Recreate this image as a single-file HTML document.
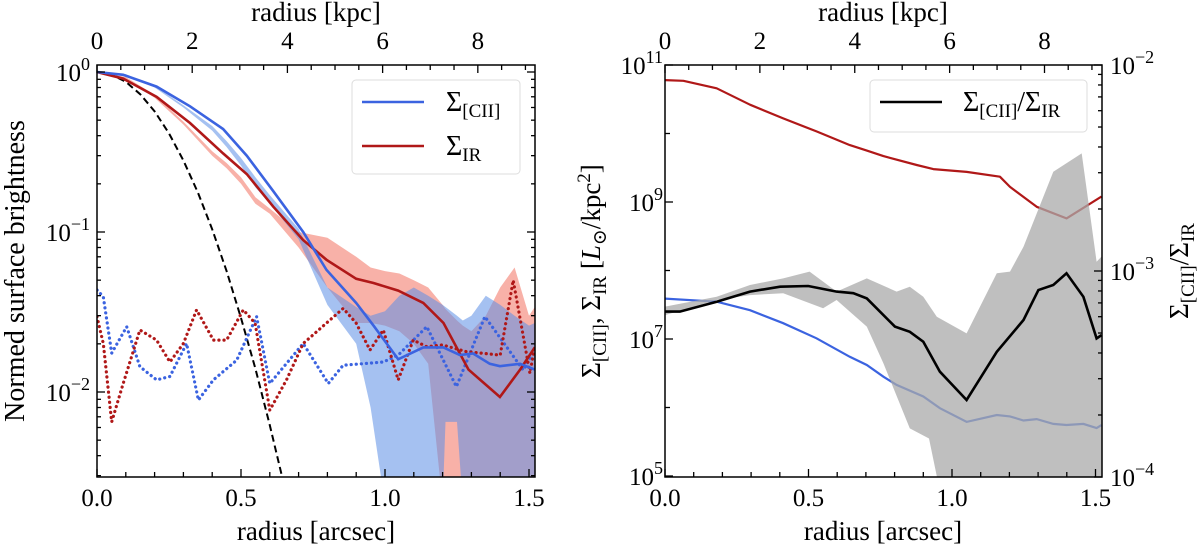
<!DOCTYPE html>
<html><head><meta charset="utf-8"><style>
html,body{margin:0;padding:0;background:#fff;}
svg{display:block;}
svg text{font-family:"Liberation Serif","Times New Roman",Times,"DejaVu Serif",serif;}
</style></head><body>
<svg id="fig" width="1200" height="549" viewBox="0 0 1200 549" xmlns="http://www.w3.org/2000/svg">
<defs>
<clipPath id="clipL"><rect x="97" y="65" width="438" height="412"/></clipPath>
<clipPath id="clipR"><rect x="665" y="65" width="437" height="412"/></clipPath>
</defs>
<g id="left"></g>
<g id="right"></g>
</svg>
<script>
// ---------- LEFT PANEL DATA ----------
const ciiR = [0,0.091,0.207,0.323,0.438,0.52,0.612,0.716,0.797,0.90,0.96,1.046,1.133,1.203,1.26,1.306,1.364,1.399,1.469,1.52];
const ciiV = [1.0,0.96,0.81,0.61,0.44,0.30,0.18,0.10,0.058,0.036,0.026,0.016,0.019,0.019,0.017,0.0174,0.015,0.0145,0.0150,0.0138];
const irR = [0,0.091,0.207,0.323,0.438,0.52,0.612,0.716,0.797,0.90,0.96,1.046,1.133,1.203,1.29,1.399,1.469,1.52];
const irV = [1.0,0.91,0.70,0.48,0.31,0.23,0.144,0.089,0.067,0.051,0.048,0.043,0.036,0.027,0.0138,0.0093,0.0138,0.019];
const bandR = [0,0.1,0.2,0.3,0.4,0.45,0.5,0.55,0.6,0.7,0.8,0.9,0.95,1.0,1.05,1.1,1.15,1.2,1.21,1.25,1.27,1.3,1.35,1.4,1.45,1.5,1.52];
const irUp = [1,0.93,0.72,0.49,0.32,0.27,0.22,0.165,0.14,0.10,0.092,0.07,0.06,0.057,0.055,0.05,0.045,0.035,0.033,0.028,0.026,0.024,0.03,0.045,0.06,0.03,0.034];
const irLo = [1,0.90,0.69,0.47,0.30,0.25,0.20,0.15,0.13,0.08,0.045,0.027,0.027,0.026,0.024,0.02,0.015,0.002,0.002,0.002,0.002,0.002,0.002,0.002,0.002,0.002,0.002];
const ciiUp = [1,0.97,0.82,0.62,0.46,0.37,0.29,0.22,0.17,0.105,0.045,0.034,0.03,0.032,0.04,0.045,0.04,0.035,0.034,0.03,0.028,0.03,0.04,0.035,0.03,0.026,0.027];
const ciiLo = [1,0.95,0.80,0.60,0.43,0.34,0.26,0.19,0.15,0.09,0.035,0.02,0.008,0.002,0.002,0.002,0.002,0.002,0.0065,0.0065,0.002,0.002,0.002,0.002,0.002,0.002,0.002];
const ciiNoiseR = [0,0.022,0.051,0.103,0.149,0.207,0.253,0.311,0.352,0.404,0.485,0.554,0.60,0.716,0.803,0.855,0.936,0.994,1.046,1.145,1.248,1.347,1.422,1.48,1.52];
const ciiNoiseV = [0.0434,0.0394,0.0175,0.0256,0.0144,0.0119,0.0125,0.0201,0.0089,0.0119,0.0158,0.0296,0.0113,0.0201,0.0113,0.0147,0.0151,0.0154,0.017,0.0256,0.0108,0.0296,0.0192,0.0137,0.0183];
const irNoiseR = [0,0.022,0.051,0.091,0.149,0.207,0.253,0.30,0.346,0.404,0.45,0.508,0.549,0.60,0.658,0.716,0.855,0.90,0.948,0.994,1.046,1.098,1.145,1.20,1.28,1.40,1.445,1.503,1.52];
const irNoiseV = [0.0296,0.0201,0.0065,0.0113,0.0244,0.0211,0.0154,0.0201,0.0326,0.0211,0.0211,0.0326,0.0269,0.0077,0.0119,0.0201,0.0333,0.0269,0.0183,0.0244,0.0119,0.0211,0.0192,0.0197,0.0179,0.017,0.050,0.0131,0.0192];
const psfR = [0,0.05,0.1,0.15,0.2,0.25,0.3,0.35,0.4,0.45,0.5,0.55,0.6,0.65];
const psfV = [1,0.965,0.868,0.727,0.568,0.413,0.28,0.177,0.104,0.057,0.029,0.014,0.0062,0.0026];
const arcTicks = ["0.0","0.5","1.0","1.5"];
const arcTickVals = [0,0.5,1.0,1.5];
const kpcTicks = ["0","2","4","6","8"];
const kpcTickVals = [0,2,4,6,8];
const leftYExp = ["0","\u22121","\u22122"];
const leftYVals = [0,-1,-2];

// ---------- RIGHT PANEL DATA ----------
const rIrR = [0,0.064,0.18,0.296,0.412,0.528,0.644,0.703,0.761,0.877,0.935,1.051,1.167,1.202,1.295,1.399,1.521];
const rIrLog = [10.78,10.77,10.66,10.42,10.22,10.03,9.83,9.75,9.67,9.54,9.48,9.44,9.37,9.22,8.93,8.76,9.08];
const rCiiR = [0,0.18,0.296,0.412,0.528,0.644,0.703,0.761,0.807,0.90,0.958,1.051,1.156,1.202,1.249,1.295,1.353,1.399,1.458,1.504,1.521];
const rCiiLog = [7.59,7.545,7.42,7.23,7.01,6.74,6.62,6.45,6.33,6.16,5.99,5.79,5.89,5.87,5.81,5.83,5.76,5.745,5.76,5.70,5.745];
const ratioR = [0,0.052,0.18,0.296,0.401,0.499,0.598,0.656,0.703,0.801,0.853,0.90,0.958,1.051,1.156,1.249,1.301,1.353,1.399,1.458,1.504,1.521];
const ratioLog = [-3.197,-3.197,-3.149,-3.10,-3.076,-3.073,-3.10,-3.108,-3.133,-3.27,-3.295,-3.343,-3.489,-3.626,-3.392,-3.238,-3.092,-3.068,-3.011,-3.125,-3.327,-3.311];
const gUpR = [0,0.18,0.296,0.412,0.504,0.598,0.703,0.807,0.853,0.90,0.947,1.051,1.156,1.202,1.249,1.353,1.452,1.504,1.521];
const gUpLog = [-3.173,-3.125,-3.068,-3.036,-3.003,-3.10,-3.036,-3.10,-3.076,-3.125,-3.222,-3.303,-3.011,-3.003,-2.882,-2.518,-2.429,-2.955,-2.93];
const gLoR = [0,0.18,0.296,0.412,0.551,0.598,0.703,0.761,0.853,0.92,0.955,1.521];
const gLoLog = [-3.214,-3.141,-3.117,-3.108,-3.181,-3.141,-3.27,-3.448,-3.764,-3.813,-4.05,-4.05];
const rightLExp = ["11","9","7","5"];
const rightLVals = [11,9,7,5];
const rightRExp = ["\u22122","\u22123","\u22124"];
const rightRVals = [-2,-3,-4];

const NS="http://www.w3.org/2000/svg";
const FF = '"Liberation Serif", "Times New Roman", Times, "DejaVu Serif", serif';
function mk(parent, tag, attrs){const e=document.createElementNS(NS,tag);for(const k in attrs)e.setAttribute(k,attrs[k]);if(tag==='text'){e.setAttribute('font-family',FF);e.style.fontFamily=FF;}parent.appendChild(e);return e;}

const xL = r => 97 + 288*r;
const yL = v => 72 - 160*Math.log10(v);
const xR = r => 665 + 287*r;
const yRL = l => 65 + (11-l)*68.5;
const yRR = l => 65 + (-2-l)*206;

function pathFrom(xs, ys, fx, fy){return xs.map((x,i)=>(i?'L':'M')+fx(x).toFixed(1)+','+fy(ys[i]).toFixed(1)).join(' ');}
function bandPath(xs, up, lo, fx, fy, xs2){
  xs2 = xs2||xs;
  let d = xs.map((x,i)=>(i?'L':'M')+fx(x).toFixed(1)+','+fy(up[i]).toFixed(1)).join(' ');
  for(let i=xs2.length-1;i>=0;i--) d+=' L'+fx(xs2[i]).toFixed(1)+','+fy(lo[i]).toFixed(1);
  return d+' Z';
}
function powLabel(parent, x, y, exp, anchor, name){
  const t = mk(parent,'text',{x:x,y:y,'font-size':'25','text-anchor':anchor,fill:'#000'});
  
  
  t.appendChild(document.createTextNode('10'));
  const s = mk(t,'tspan',{dy:'-11','font-size':'18'});
  s.textContent = exp;
  return t;
}

// ================= LEFT =================
const L = document.getElementById('left');
const gL = mk(L,'g',{'clip-path':'url(#clipL)'});
let p;
p = mk(gL,'path',{d:bandPath(bandR,irUp,irLo,xL,yL),fill:'#f37d6e','fill-opacity':'0.6',stroke:'none'});


p = mk(gL,'path',{d:bandPath(bandR,ciiUp,ciiLo,xL,yL),fill:'#5b8ee6','fill-opacity':'0.55',stroke:'none'});


p = mk(gL,'path',{d:pathFrom(psfR,psfV,xL,yL),fill:'none',stroke:'#000','stroke-width':'2','stroke-dasharray':'7,4'});


p = mk(gL,'path',{d:pathFrom(ciiNoiseR,ciiNoiseV,xL,yL),fill:'none',stroke:'#3b63e0','stroke-width':'3.2','stroke-dasharray':'0.1,5','stroke-linecap':'round'});


p = mk(gL,'path',{d:pathFrom(irNoiseR,irNoiseV,xL,yL),fill:'none',stroke:'#b01818','stroke-width':'3.2','stroke-dasharray':'0.1,5','stroke-linecap':'round'});


p = mk(gL,'path',{d:pathFrom(irR,irV,xL,yL),fill:'none',stroke:'#b01818','stroke-width':'2.6'});


p = mk(gL,'path',{d:pathFrom(ciiR,ciiV,xL,yL),fill:'none',stroke:'#3b63e0','stroke-width':'2.6'});



function drawFrame(parent,x0,y0,x1,y1,name){
  const r = mk(parent,'rect',{x:x0,y:y0,width:x1-x0,height:y1-y0,fill:'none',stroke:'#000','stroke-width':'1.5'});
  
  
}
function tick(parent,x1,y1,x2,y2){mk(parent,'line',{x1:x1,y1:y1,x2:x2,y2:y2,stroke:'#000','stroke-width':'1.3'});}
drawFrame(L,97,65,535,477,'left-plot-frame');
const tkL = mk(L,'g',{});


for(let i=0;i<=15;i++){const x=xL(i/10);const len=(i%5===0)?8:5;tick(tkL,x,477,x,477-len);}
for(let k=0;k<=9;k+=0.5){const x=xL(k/6.05);if(x>535)break;const len=(k%2===0)?8:5;tick(tkL,x,65,x,65+len);}
for(let d=-3;d<=0;d++){for(let m=1;m<10;m++){const v=m*Math.pow(10,d);const y=yL(v);if(y<65||y>477)continue;const len=(m===1)?8:4;tick(tkL,97,y,97+len,y);tick(tkL,535,y,535-len,y);}}
arcTicks.forEach((s,i)=>{const t=mk(L,'text',{x:xL(arcTickVals[i]),y:506,'font-size':'25','text-anchor':'middle'});t.textContent=s;

});
kpcTicks.forEach((s,i)=>{const t=mk(L,'text',{x:xL(kpcTickVals[i]/6.05),y:49,'font-size':'25','text-anchor':'middle'});t.textContent=s;

});
leftYExp.forEach((s,i)=>{powLabel(L,90,yL(Math.pow(10,leftYVals[i]))+9,s,'end','left-y-tick-label');});
let t;
t=mk(L,'text',{x:316,y:540,'font-size':'27','text-anchor':'middle'});t.textContent='radius [arcsec]';


t=mk(L,'text',{x:316,y:21,'font-size':'27','text-anchor':'middle'});t.textContent='radius [kpc]';


t=mk(L,'text',{x:0,y:0,'font-size':'28','text-anchor':'middle',transform:'translate(24,271) rotate(-90)'});t.textContent='Normed surface brightness';



const lgL = mk(L,'g',{});


mk(lgL,'rect',{x:352,y:80,width:168,height:94,rx:4,fill:'#fff','fill-opacity':'0.85',stroke:'#ddd','stroke-width':'1'});
mk(lgL,'line',{x1:362,y1:102,x2:424,y2:102,stroke:'#3b63e0','stroke-width':'2.6'});
mk(lgL,'line',{x1:362,y1:146,x2:424,y2:146,stroke:'#b01818','stroke-width':'2.6'});
t=mk(lgL,'text',{x:446,y:111,'font-size':'28'});t.innerHTML='Σ<tspan font-size="19" dy="6">[CII]</tspan>';


t=mk(lgL,'text',{x:446,y:155,'font-size':'28'});t.innerHTML='Σ<tspan font-size="19" dy="6">IR</tspan>';



// ================= RIGHT =================
const R = document.getElementById('right');
const gR = mk(R,'g',{'clip-path':'url(#clipR)'});
p = mk(gR,'path',{d:pathFrom(rIrR,rIrLog,xR,yRL),fill:'none',stroke:'#b01818','stroke-width':'2.2','stroke-linejoin':'round'});


p = mk(gR,'path',{d:pathFrom(rCiiR,rCiiLog,xR,yRL),fill:'none',stroke:'#3b63e0','stroke-width':'2.2'});


p = mk(gR,'path',{d:bandPath(gUpR,gUpLog,gLoLog,xR,yRR,gLoR),fill:'#a9a9a9','fill-opacity':'0.75',stroke:'none'});


p = mk(gR,'path',{d:pathFrom(ratioR,ratioLog,xR,yRR),fill:'none',stroke:'#000','stroke-width':'2.6'});



drawFrame(R,665,65,1102,477,'right-plot-frame');
const tkR = mk(R,'g',{});


for(let i=0;i<=15;i++){const x=xR(i/10);const len=(i%5===0)?8:5;tick(tkR,x,477,x,477-len);}
for(let k=0;k<=9;k+=0.5){const x=xR(k/6.05);if(x>1102)break;const len=(k%2===0)?8:5;tick(tkR,x,65,x,65+len);}
for(let l=5;l<=11;l++){const y=yRL(l);const len=(l%2===1)?8:5;tick(tkR,665,y,665+len,y);}
for(let d=-4;d<=-2;d++){for(let m=1;m<10;m++){const l=d+Math.log10(m);const y=yRR(l);if(y<65||y>477)continue;const len=(m===1)?8:4;tick(tkR,1102,y,1102-len,y);}}
arcTicks.forEach((s,i)=>{const t=mk(R,'text',{x:xR(arcTickVals[i]),y:506,'font-size':'25','text-anchor':'middle'});t.textContent=s;

});
kpcTicks.forEach((s,i)=>{const t=mk(R,'text',{x:xR(kpcTickVals[i]/6.05),y:49,'font-size':'25','text-anchor':'middle'});t.textContent=s;

});
rightLExp.forEach((s,i)=>{powLabel(R,663,yRL(rightLVals[i])+9,s,'end','right-left-y-tick-label');});
rightRExp.forEach((s,i)=>{powLabel(R,1110,yRR(rightRVals[i])+9,s,'start','right-right-y-tick-label');});
t=mk(R,'text',{x:883,y:540,'font-size':'27','text-anchor':'middle'});t.textContent='radius [arcsec]';


t=mk(R,'text',{x:883,y:21,'font-size':'27','text-anchor':'middle'});t.textContent='radius [kpc]';


t=mk(R,'text',{x:0,y:0,'font-size':'27','text-anchor':'middle',transform:'translate(600,271) rotate(-90)'});
t.innerHTML='Σ<tspan font-size="19" dy="6">[CII]</tspan><tspan dy="-6">, Σ</tspan><tspan font-size="19" dy="6">IR</tspan><tspan dy="-6"> [</tspan><tspan font-style="italic">L</tspan><tspan font-size="19" dy="6">⊙</tspan><tspan dy="-6">/kpc</tspan><tspan font-size="19" dy="-10">2</tspan><tspan dy="10">]</tspan>';


t=mk(R,'text',{x:0,y:0,'font-size':'27','text-anchor':'middle',transform:'translate(1188,271) rotate(-90)'});
t.innerHTML='Σ<tspan font-size="19" dy="6">[CII]</tspan><tspan dy="-6">/Σ</tspan><tspan font-size="19" dy="6">IR</tspan>';



const lgR = mk(R,'g',{});


mk(lgR,'rect',{x:870,y:80,width:217,height:52,rx:4,fill:'#fff','fill-opacity':'0.85',stroke:'#ddd','stroke-width':'1'});
mk(lgR,'line',{x1:880,y1:102,x2:942,y2:102,stroke:'#000','stroke-width':'2.6'});
t=mk(lgR,'text',{x:963,y:111,'font-size':'28'});t.innerHTML='Σ<tspan font-size="19" dy="6">[CII]</tspan><tspan dy="-6">/Σ</tspan><tspan font-size="19" dy="6">IR</tspan>';


</script>
</body></html>
